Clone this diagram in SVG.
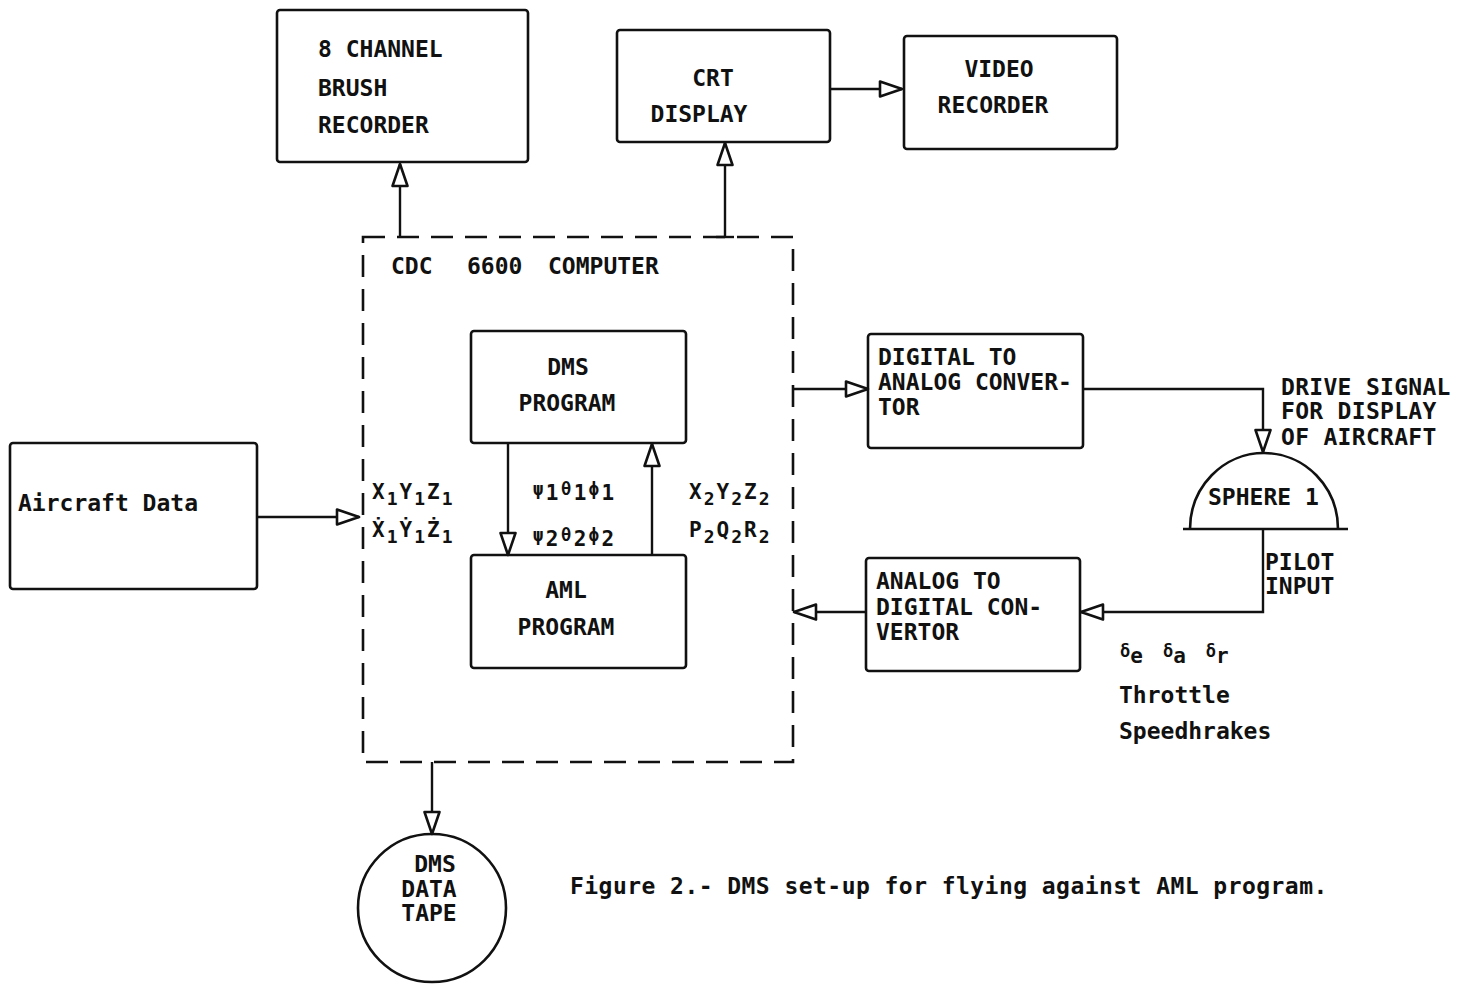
<svg xmlns="http://www.w3.org/2000/svg" width="1464" height="990" viewBox="0 0 1464 990">
<style>
.box{fill:none;stroke:#111;stroke-width:2.6}
.dash{fill:none;stroke:#111;stroke-width:2.6;stroke-dasharray:22 12}
.ln{fill:none;stroke:#111;stroke-width:2.4}
.t{font-family:"DejaVu Sans Mono","Liberation Mono",monospace;font-weight:bold;font-size:23px;fill:#111}
.s{font-family:"DejaVu Sans Mono","Liberation Mono",monospace;font-weight:bold;font-size:21px;fill:#111}
</style>
<defs>
<marker id="ah" viewBox="-26 -11 28 22" markerWidth="28" markerHeight="22" refX="0" refY="0" orient="auto" markerUnits="userSpaceOnUse">
<path d="M0,0 L-22,-7.5 L-22,7.5 Z" fill="#fff" stroke="#111" stroke-width="2.6" stroke-linejoin="round"/>
</marker>
</defs>
<rect width="1464" height="990" fill="#fff"/>

<g id="connectors">
<path class="ln" d="M400,237 V164" marker-end="url(#ah)"/>
<path class="ln" d="M725,237 V143" marker-end="url(#ah)"/>
<path class="ln" d="M716,237 H734"/>
<path class="ln" d="M829,89 H902" marker-end="url(#ah)"/>
<path class="ln" d="M257,517 H359" marker-end="url(#ah)"/>
<path class="ln" d="M508,443 V555" marker-end="url(#ah)"/>
<path class="ln" d="M652,555 V444" marker-end="url(#ah)"/>
<path class="ln" d="M793,389 H868" marker-end="url(#ah)"/>
<path class="ln" d="M1083,389 H1263 V452" marker-end="url(#ah)"/>
<path class="ln" d="M1263,529 V612 H1081" marker-end="url(#ah)"/>
<path class="ln" d="M866,612 H794" marker-end="url(#ah)"/>
<path class="ln" d="M432,762 V834" marker-end="url(#ah)"/>
</g>

<g id="brush-recorder">
<rect class="box" x="277" y="10" width="251" height="152" rx="3"/>
<text class="t" x="318" y="57">8 CHANNEL</text>
<text class="t" x="318" y="96">BRUSH</text>
<text class="t" x="318" y="133">RECORDER</text>
</g>

<g id="crt-display">
<rect class="box" x="617" y="30" width="213" height="112" rx="3"/>
<text class="t" x="713" y="86" text-anchor="middle">CRT</text>
<text class="t" x="699" y="122" text-anchor="middle">DISPLAY</text>
</g>

<g id="video-recorder">
<rect class="box" x="904" y="36" width="213" height="113" rx="3"/>
<text class="t" x="999" y="77" text-anchor="middle">VIDEO</text>
<text class="t" x="993" y="113" text-anchor="middle">RECORDER</text>
</g>

<g id="computer">
<rect class="dash" x="363" y="237" width="430" height="525"/>
<text class="t" x="391" y="274">CDC</text>
<text class="t" x="467" y="274">6600</text>
<text class="t" x="548" y="274">COMPUTER</text>
<text class="s" x="372" y="499" letter-spacing="2">X<tspan font-size="18" dy="6">1</tspan><tspan dy="-6">Y</tspan><tspan font-size="18" dy="6">1</tspan><tspan dy="-6">Z</tspan><tspan font-size="18" dy="6">1</tspan></text>
<text class="s" x="372" y="537" letter-spacing="2">Ẋ<tspan font-size="18" dy="6">1</tspan><tspan dy="-6">Ẏ</tspan><tspan font-size="18" dy="6">1</tspan><tspan dy="-6">Ż</tspan><tspan font-size="18" dy="6">1</tspan></text>
<text class="s" x="533" y="500" letter-spacing="2.5"><tspan font-size="17" dy="-5">ψ</tspan><tspan dy="5">1</tspan><tspan font-size="17" dy="-5">θ</tspan><tspan dy="5">1</tspan><tspan font-size="17" dy="-5">ϕ</tspan><tspan dy="5">1</tspan></text>
<text class="s" x="533" y="546" letter-spacing="2.5"><tspan font-size="17" dy="-5">ψ</tspan><tspan dy="5">2</tspan><tspan font-size="17" dy="-5">θ</tspan><tspan dy="5">2</tspan><tspan font-size="17" dy="-5">ϕ</tspan><tspan dy="5">2</tspan></text>
<text class="s" x="689" y="499" letter-spacing="2">X<tspan font-size="18" dy="6">2</tspan><tspan dy="-6">Y</tspan><tspan font-size="18" dy="6">2</tspan><tspan dy="-6">Z</tspan><tspan font-size="18" dy="6">2</tspan></text>
<text class="s" x="689" y="537" letter-spacing="2">P<tspan font-size="18" dy="6">2</tspan><tspan dy="-6">Q</tspan><tspan font-size="18" dy="6">2</tspan><tspan dy="-6">R</tspan><tspan font-size="18" dy="6">2</tspan></text>
</g>

<g id="dms-program">
<rect class="box" x="471" y="331" width="215" height="112" rx="3"/>
<text class="t" x="568" y="375" text-anchor="middle">DMS</text>
<text class="t" x="567" y="411" text-anchor="middle">PROGRAM</text>
</g>

<g id="aml-program">
<rect class="box" x="471" y="555" width="215" height="113" rx="3"/>
<text class="t" x="566" y="598" text-anchor="middle">AML</text>
<text class="t" x="566" y="635" text-anchor="middle">PROGRAM</text>
</g>

<g id="aircraft-data">
<rect class="box" x="10" y="443" width="247" height="146" rx="3"/>
<text class="t" x="18" y="511">Aircraft Data</text>
</g>

<g id="dac">
<rect class="box" x="868" y="334" width="215" height="114" rx="3"/>
<text class="t" x="878" y="365">DIGITAL TO</text>
<text class="t" x="878" y="390">ANALOG CONVER-</text>
<text class="t" x="878" y="415">TOR</text>
</g>

<g id="adc">
<rect class="box" x="866" y="558" width="214" height="113" rx="3"/>
<text class="t" x="876" y="589">ANALOG TO</text>
<text class="t" x="876" y="615">DIGITAL CON-</text>
<text class="t" x="876" y="640">VERTOR</text>
</g>

<g id="sphere">
<path class="box" d="M1190,529 A74,76 0 0 1 1338,529"/>
<path class="box" d="M1183,529 H1348"/>
<text class="t" x="1208" y="505">SPHERE 1</text>
</g>

<g id="labels">
<text class="t" x="1281" y="395" letter-spacing="0.3">DRIVE SIGNAL</text>
<text class="t" x="1281" y="419" letter-spacing="0.3">FOR DISPLAY</text>
<text class="t" x="1281" y="445" letter-spacing="0.3">OF AIRCRAFT</text>
<text class="t" x="1265" y="570">PILOT</text>
<text class="t" x="1265" y="594">INPUT</text>
<text class="s" x="1120" y="662"><tspan font-size="17" dy="-5">δ</tspan><tspan dy="6">e</tspan><tspan font-size="17" dx="20" dy="-6">δ</tspan><tspan dy="6">a</tspan><tspan font-size="17" dx="20" dy="-6">δ</tspan><tspan dy="6">r</tspan></text>
<text class="t" x="1119" y="703">Throttle</text>
<text class="t" x="1119" y="739">Speedhrakes</text>
<text class="t" x="570" y="894" letter-spacing="0.45">Figure 2.- DMS set-up for flying against AML program.</text>
</g>

<g id="data-tape">
<circle class="box" cx="432" cy="908" r="74"/>
<text class="t" x="435" y="872" text-anchor="middle">DMS</text>
<text class="t" x="429" y="897" text-anchor="middle">DATA</text>
<text class="t" x="429" y="921" text-anchor="middle">TAPE</text>
</g>
</svg>
